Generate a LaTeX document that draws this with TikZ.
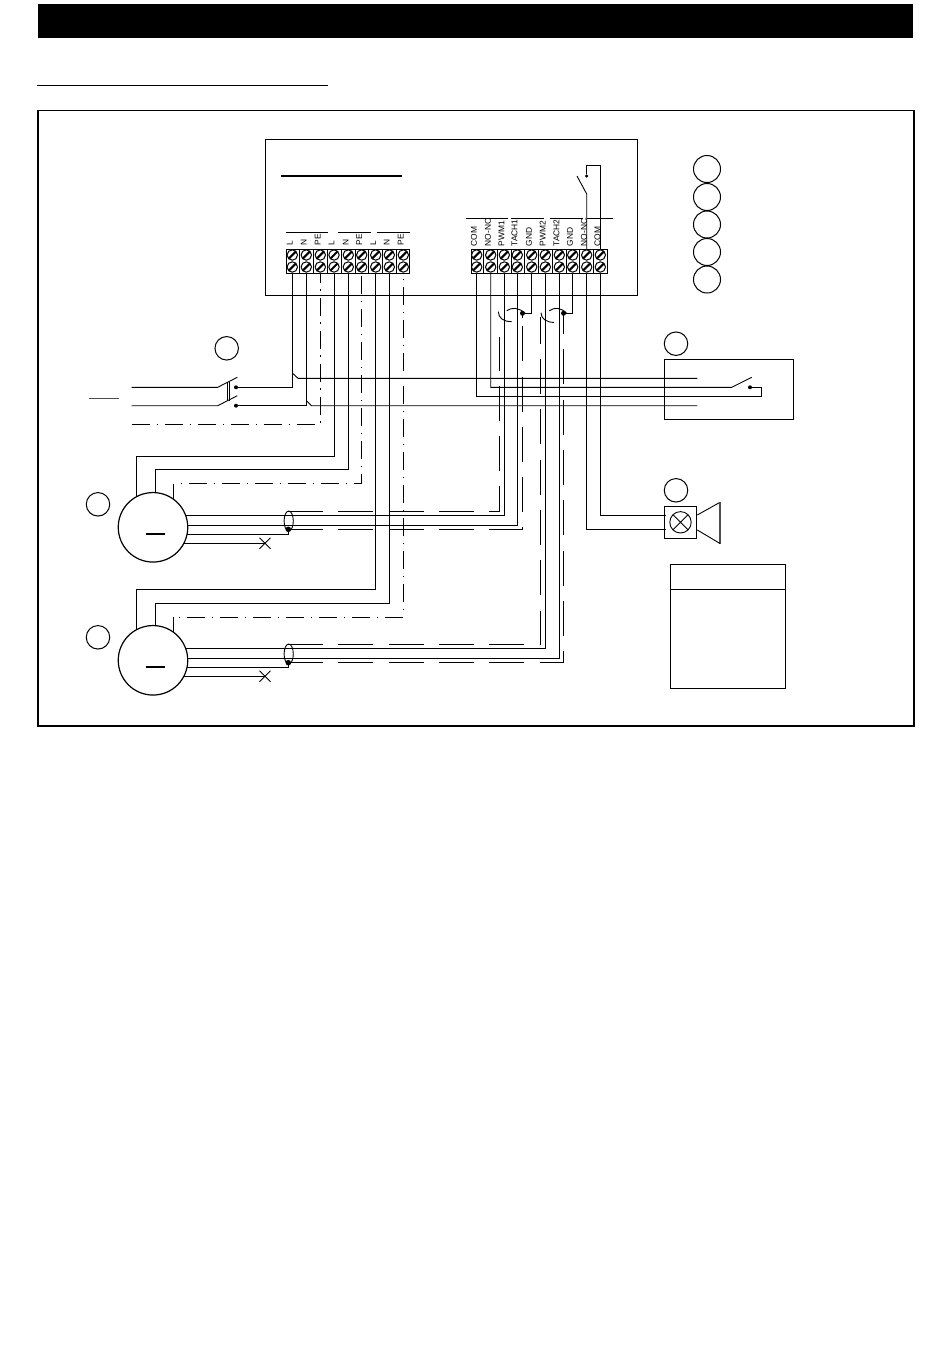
\documentclass[tikz,border=0pt]{standalone}
\usepackage{fontspec}
\usetikzlibrary{calc}
\setmainfont{Liberation Sans}
\definecolor{greyline}{gray}{0.3}
\tikzset{
  wire/.style={line width=0.9pt,line join=miter},
  shield/.style={line width=0.9pt,dash pattern=on 35pt off 15.3pt},
  earth/.style={line width=1pt,dash pattern=on 18pt off 7pt on 1.2pt off 6.8pt},
  ref/.style={circle,draw,line width=1pt,fill=white,inner sep=0pt,minimum size=23.5pt},
  refbig/.style={circle,draw,line width=1pt,fill=white,inner sep=0pt,minimum size=27pt},
  motor/.style={circle,draw,line width=1.2pt,fill=white,inner sep=0pt,minimum size=69.5pt},
  box/.style={draw,line width=0.9pt},
  termlabel/.style={rotate=90,anchor=west,inner sep=0pt,font=\fontsize{8.4}{8.4}\selectfont},
  dotmark/.style={circle,fill=black,inner sep=0pt,minimum size=#1},
  dotmark/.default=4pt,
  screw/.style={line width=1pt,fill=white}
}
\newcommand{\screwpair}[1]{%
  \foreach \yy in {255,267}{
    \draw[screw] (#1,\yy) circle[radius=5.2];
    \draw[line width=2.1pt] ({#1-3.6},{\yy+3.6}) -- ({#1+3.6},{\yy-3.6});
  }}
\begin{document}
\begin{tikzpicture}[x=1pt,y=-1pt]
\useasboundingbox (0,0) rectangle (950,1355);
% header
\fill[black] (38,4) rectangle (913,37.5);
\draw[line width=0.9pt] (37,85) -- (328,85);
\draw[line width=1.6pt] (38,110.5) rectangle (914,726);
% controller box
\draw[box] (265.5,139.5) rectangle (637.5,295.5);
\draw[line width=2pt] (281,176) -- (402,176);
% named terminal tails
\foreach \i/\x in {0/292.3,1/306.3,2/320.3,3/334,4/348.3,5/361.7,6/375.7,7/389.3,8/403.3}
  \coordinate (tl\i) at (\x,273);
\foreach \i/\x in {0/476.7,1/490.7,2/504.3,3/517.3,4/531.7,5/545.3,6/559.3,7/572.7,8/586.7,9/600.3}
  \coordinate (tr\i) at (\x,272);
% supply
\coordinate (sup1) at (131.7,387.3);
\coordinate (sup1b) at (217.7,387.3);
\coordinate (sup1e) at (237.3,377.3);
\coordinate (sup2) at (131.7,405.7);
\coordinate (sup2b) at (217.7,405.7);
\coordinate (sup2e) at (237.3,395.7);
\coordinate (sup3) at (131.7,424);
\node[dotmark] (sd1) at (236,387.3) {};
\node[dotmark] (sd2) at (236,405.7) {};
\draw[wire] (sup1) -- (sup1b) -- (sup1e);
\draw[wire] (sup2) -- (sup2b) -- (sup2e);
\draw[wire] (227.3,382) -- (227.3,400.7) (229.5,382) -- (229.5,400.7);
\draw[line width=0.9pt,greyline] (89.3,398.7) -- (118.7,398.7);
\draw[wire] (sd1) -| (tl0);
\draw[wire] (sd2) -| (tl1);
\draw[earth] (sup3) -| (tl2);
% remote switch box and through wires
\draw[box] (664.5,359.5) rectangle (793.5,419.3);
\coordinate (lin1) at (697.3,378.3);
\coordinate (lin2) at (697.3,405.7);
\draw[wire] (292.3,373) -- (298,378.3) -- (lin1);
\draw[wire] (306.3,400.7) -- (311.5,405.7) -- (lin2);
\coordinate (sw1) at (731.7,387.3);
\coordinate (sw1e) at (751.7,377.3);
\node[dotmark] (swd) at (750,387.3) {};
\draw[wire] (tr1) |- (sw1) -- (sw1e);
\draw[wire] (swd) -- (761.7,387.3) -- (761.7,396.3) -| (tr0);
% motor 1 power
\coordinate (m1a) at (136.7,500);
\coordinate (m1b) at (155.3,500);
\coordinate (m1c) at (173.7,500);
\draw[wire] (tl3) |- (136.7,456.3) -- (m1a);
\draw[wire] (tl4) |- (155.3,469.3) -- (m1b);
\draw[wire] (m1c) -- (173.7,483.7);
\draw[earth,dash phase=18pt] (173.7,483.7) -| (tl5);
% motor 2 power
\coordinate (m2a) at (136.7,632);
\coordinate (m2b) at (155.3,632);
\coordinate (m2c) at (173.7,635.7);
\draw[wire] (tl6) |- (136.7,589.3) -- (m2a);
\draw[wire] (tl7) |- (155.3,603.3) -- (m2b);
\draw[wire] (m2c) -- (173.7,617);
\draw[earth,dash phase=19.5pt] (173.7,617) -| (tl8);
% motor 1 signals
\draw[wire] (175,515.3) -| (tr2);
\draw[wire] (175,525.3) -| (tr3);
\coordinate (c1d) at (288.3,529.3);
\draw[wire] (175,534.3) -- (288.3,534.3) -- (c1d);
\coordinate (x1) at (265,543.3);
\draw[wire] (175,543.3) -- (x1);
\draw[wire] ($(x1)+(-5.5,-5.5)$) -- ($(x1)+(5.5,5.5)$) ($(x1)+(-5.5,5.5)$) -- ($(x1)+(5.5,-5.5)$);
\draw[shield] (288,511.3) -| (499.3,337);
\draw[shield] (288,529.3) -| (522.3,313.3);
\draw[wire] (288.7,521) ellipse[x radius=4.6,y radius=10];
\node[dotmark=5.5pt] at (c1d) {};
% motor 2 signals
\draw[wire] (175,648.3) -| (tr5);
\draw[wire] (175,658.3) -| (tr6);
\coordinate (c2d) at (288.3,662.7);
\draw[wire] (175,667.3) -- (288.3,667.3) -- (c2d);
\coordinate (x2) at (265,676.3);
\draw[wire] (175,676.3) -- (x2);
\draw[wire] ($(x2)+(-5.5,-5.5)$) -- ($(x2)+(5.5,5.5)$) ($(x2)+(-5.5,5.5)$) -- ($(x2)+(5.5,-5.5)$);
\draw[shield] (288,644.3) -| (540.7,317);
\draw[shield] (288,662.3) -| (563.3,313.3);
\draw[wire] (288.7,654) ellipse[x radius=4.6,y radius=10];
\node[dotmark=5.5pt] at (c2d) {};
% shield pigtails at terminal side
\node[dotmark=5pt] (p1) at (522.5,313.3) {};
\node[dotmark=5pt] (p2) at (563.5,313.3) {};
\draw[wire] (tr4) |- (p1);
\draw[wire] (tr7) |- (p2);
\draw[wire] (498.3,311.7) .. controls (498.6,318) and (503,321.5) .. (511.7,321.7);
\draw[wire] (506.7,310.7) .. controls (512,307) and (519,307.5) .. (525,313.3);
\draw[wire] (541,312.7) .. controls (541.3,319) and (546,322) .. (554,322.5);
\draw[wire] (549.3,310.7) .. controls (554.5,307) and (561,307.5) .. (566.7,313.3);
\draw[line width=1.4pt] (522.3,313.3) -- (522.3,318) (563.3,313.3) -- (563.3,318);
% relay contact
\coordinate (rb) at (586.7,194);
\coordinate (re) at (577,176);
\node[dotmark=3.5pt] (rd) at (586.7,176) {};
\draw[wire] (tr8) -- (rb) -- (re);
\draw[wire] (rd) -- (586.7,165) -| (tr9);
% horn
\coordinate (hw1) at (666,515);
\coordinate (hw2) at (666,529.3);
\draw[wire] (tr9) |- (hw1);
\draw[wire] (tr8) |- (hw2);
\node[draw,line width=0.9pt,minimum size=32.4pt,inner sep=0pt] (hb) at (680.5,522.3) {};
\draw[wire] (680.5,522.3) circle[radius=10.7];
\draw[wire] (673,514.8) -- (688,529.8) (673,529.8) -- (688,514.8);
\draw[wire] (697.3,515) -- (720,502.3);
\draw[line width=1.6pt,greyline] (720,502.3) -- (720,543.5);
\draw[wire] (720,543.5) -- (697.3,530);
% motors
\node[motor] (m1) at (153,527.3) {};
\node[motor] (m2) at (153,660.3) {};
\draw[line width=2pt] (145.7,533.7) -- (165,533.7);
\draw[line width=2pt] (145.7,667) -- (165,667);
% reference circles
\node[ref] (r1) at (226.7,348.3) {};
\node[ref] (r2) at (676,343.7) {};
\node[ref] (r3) at (676,490.3) {};
\node[ref] (r4) at (98,504.3) {};
\node[ref] (r5) at (98,637.3) {};
\foreach \n/\y in {a/169,b/197,c/224.5,d/252,e/279.5}
  \node[refbig] (k\n) at (707,\y) {};
% legend box
\draw[box] (670.5,564.5) rectangle (785.5,688);
\draw[wire] (670.5,589) -- (785.5,589);
% terminal blocks
\draw[box,fill=white] (286,249.5) rectangle (409.7,273.7);
\foreach \x in {299.3,313.3,327.2,341,355,368.7,382.5,396.3}
  \draw[line width=0.5pt] (\x,249.5) -- (\x,273.7);
\foreach \x in {292.3,306.3,320.3,334,348.3,361.7,375.7,389.3,403.3}
  \screwpair{\x}
\draw[box,fill=white] (471.7,249.5) rectangle (607.3,273);
\foreach \x in {483.5,497.5,511,524.5,538.5,552.3,566,579.7,593.5}
  \draw[line width=0.5pt] (\x,249.5) -- (\x,273);
\foreach \x in {476.7,490.7,504.3,517.3,531.7,545.3,559.3,572.7,586.7,600.3}
  \screwpair{\x}
% group bars
\foreach \a/\b in {286/328,338/371,377/410}
  \draw[line width=0.9pt] (\a,232.3) -- (\b,232.3);
\foreach \a/\b in {466/508,511/544,550/583,587/613}
  \draw[line width=0.9pt] (\a,218.5) -- (\b,218.5);
% labels
\foreach \x/\t in {292.3/L,306.3/N,320.3/PE,334/L,348.3/N,361.7/PE,375.7/L,389.3/N,403.3/PE}
  \node[termlabel] at (\x-2.5,245.5) {\t};
\foreach \x/\t in {476.7/COM,490.7/NO-NC,504.3/PWM1,517.3/TACH1,531.7/GND,545.3/PWM2,559.3/TACH2,572.7/GND,586.7/NO-NC,600.3/COM}
  \node[termlabel] at (\x-2.7,246.5) {\t};
\end{tikzpicture}
\end{document}
